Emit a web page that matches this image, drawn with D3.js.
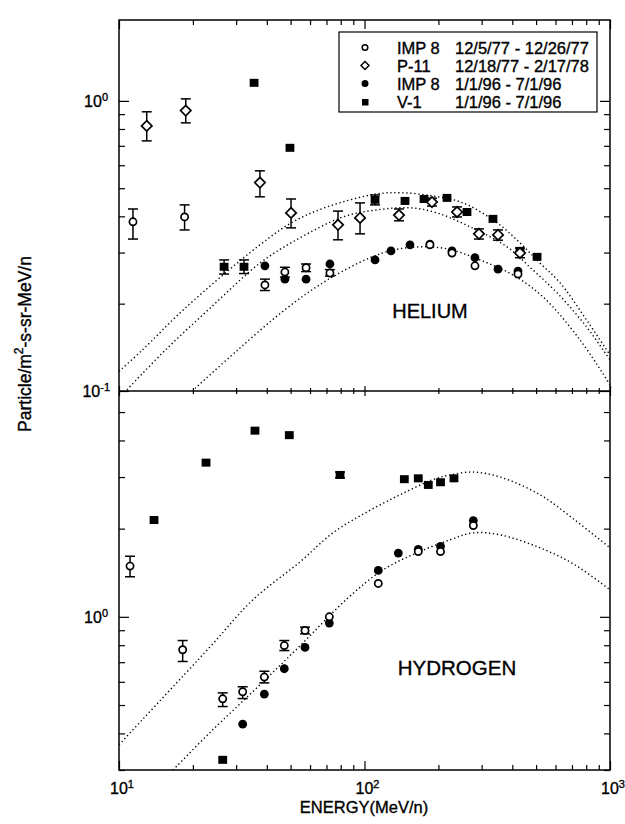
<!DOCTYPE html>
<html><head><meta charset="utf-8">
<script src="https://d3js.org/d3.v7.min.js"></script>
<style>body{margin:0;background:#fff}svg{display:block}text{font-family:"Liberation Sans",Arial,sans-serif;fill:#000;stroke:#000;stroke-width:0.35px}</style>
</head><body><div id="chart"></div>
<script>
// ---- DATA: [energy MeV/n, flux, errLow, errHigh] ----
const heIMP8_77 = [[11.4,0.383,0.334,0.424],[18.5,0.398,0.359,0.438],[39.3,0.232,0.222,0.243],[47.4,0.257,0.247,0.267],[57.8,0.266,0.258,0.274],[72.3,0.255,0.249,0.262],[184.7,0.319],[227.2,0.299],[281.8,0.270],[421.9,0.253]];
const heP11 = [[12.97,0.820,0.728,0.917],[18.7,0.926,0.840,1.016],[37.5,0.523,0.467,0.574],[50.2,0.411,0.365,0.459],[78.0,0.374,0.332,0.417],[95.9,0.395,0.348,0.445],[138.2,0.404,0.386,0.424],[188.3,0.448,0.434,0.462],[238.2,0.414,0.398,0.431],[292.6,0.348,0.334,0.362],[349.9,0.345,0.331,0.359],[429.9,0.299,0.288,0.311]];
const heIMP8_96 = [[39.3,0.270],[47.4,0.243],[57.8,0.243],[72.3,0.274],[110.4,0.283],[128.2,0.304],[153.2,0.319],[184.7,0.321],[227.2,0.304],[281.8,0.288],[349.9,0.263],[421.9,0.259]];
const heV1 = [[26.8,0.268,0.253,0.283],[32.3,0.268,0.254,0.283],[35.5,1.154],[49.7,0.689],[110.4,0.456,0.438,0.474],[146.2,0.452],[174.8,0.459],[216.8,0.463],[261.5,0.414],[333.6,0.392],[429.9,0.304],[504.5,0.290]];

const hIMP8_77 = [[11.09,1.49,1.37,1.61],[18.17,0.772,0.704,0.830],[26.45,0.525,0.494,0.550],[31.9,0.555,0.526,0.577],[39.08,0.623,0.595,0.652],[47.13,0.798,0.767,0.830],[57.24,0.898,0.875,0.922],[71.9,1.00],[113.8,1.30],[165.6,1.67],[204.0,1.67],[277.5,2.05]];
const hIMP8_96 = [[31.9,0.430],[39.08,0.545],[47.13,0.665],[57.24,0.786],[71.9,0.952],[113.8,1.44],[137.3,1.65],[165.6,1.70],[204.0,1.74],[277.5,2.13]];
const hV1 = [[13.89,2.14],[22.62,3.36],[26.45,0.325],[35.8,4.32],[49.4,4.17],[79.5,3.05,2.98,3.12],[145.3,2.95],[165.6,2.97],[181.9,2.82],[204.0,2.88],[231.5,2.97]];

// model curves
const heCurveTop = [[10,0.117],[12.4,0.138],[18.6,0.193],[37.5,0.319],[51.2,0.383],[70.4,0.431],[112.4,0.478],[143.5,0.482],[190.1,0.470],[251.8,0.445],[346.6,0.380],[429.9,0.324],[518.7,0.276],[625.8,0.236],[791,0.179],[1000,0.133]];
const heCurveMid = [[10.78,0.101],[15.4,0.138],[23.5,0.193],[37.5,0.276],[51.2,0.327],[81.7,0.398],[112.4,0.421],[153.2,0.428],[197.4,0.411],[268.9,0.368],[380.5,0.314],[485.8,0.261],[608.4,0.218],[791,0.169],[1000,0.128]];
const heCurveLow = [[20.4,0.102],[30.3,0.138],[48.3,0.193],[70.4,0.241],[105.3,0.288],[130.7,0.306],[168.3,0.314],[216.8,0.309],[295.4,0.283],[402.7,0.251],[533.5,0.211],[754.9,0.150],[1000,0.105]];
const hCurveUp = [[10,0.366],[23.5,0.790],[35.1,1.143],[54.6,1.54],[74.4,1.935],[102.4,2.28],[139.5,2.61],[190.1,2.94],[223,3.05],[276.7,3.12],[356.4,3.00],[518.7,2.61],[719,2.14],[1000,1.72]];
const hCurveLow = [[16.6,0.30],[23.5,0.403],[37.5,0.586],[54.6,0.796],[84.9,1.152],[119,1.447],[163.7,1.654],[223,1.832],[276.7,1.935],[356.4,1.905],[518.7,1.72],[719,1.505],[1000,1.236]];

const legendNames = ["IMP 8","P-11","IMP 8","V-1"];
const legendDates = ["12/5/77 - 12/26/77","12/18/77 - 2/17/78","1/1/96 - 7/1/96","1/1/96 - 7/1/96"];
const xTickVals = [10,20,30,40,50,60,70,80,90,100,200,300,400,500,600,700,800,900,1000];
const yTopTicks = [0.1,0.2,0.3,0.4,0.5,0.6,0.7,0.8,0.9,1];
const yBotTicks = [0.3,0.4,0.5,0.6,0.7,0.8,0.9,1,2,3,4,5];

// ---- LAYOUT ----
const W=625,H=824, L=119, R=610, T=20, MID=391, B=770;
const svg = d3.select("#chart").append("svg").attr("width",W).attr("height",H);
const x = d3.scaleLog().domain([10,1000]).range([L,R]);
const yTop = d3.scaleLog().domain([0.1,1.9]).range([MID,T]);
const yBot = d3.scaleLog().domain([0.3,5.9]).range([B,MID]);
const isMajor = v => Math.abs(Math.log10(v)-Math.round(Math.log10(v)))<1e-6;

const defs = svg.append("defs");
defs.append("clipPath").attr("id","cTop").append("rect").attr("x",L).attr("y",T).attr("width",R-L).attr("height",MID-T);
defs.append("clipPath").attr("id","cBot").append("rect").attr("x",L).attr("y",MID).attr("width",R-L).attr("height",B-MID);

// bottom axis (ticks inward/up)
let g = svg.append("g").attr("transform",`translate(0,${B})`).call(d3.axisBottom(x).tickValues(xTickVals).tickFormat("").tickSizeOuter(0));
g.select(".domain").remove();
g.selectAll(".tick line").attr("y2",d=>isMajor(d)?-9:-5).attr("stroke","#000").attr("stroke-width",1.2);
// middle boundary ticks (both sides)
g = svg.append("g").attr("transform",`translate(0,${MID})`).call(d3.axisBottom(x).tickValues(xTickVals).tickFormat("").tickSizeOuter(0));
g.select(".domain").remove();
g.selectAll(".tick line").attr("y1",d=>isMajor(d)?-5:-3).attr("y2",d=>isMajor(d)?5:3).attr("stroke","#000").attr("stroke-width",1.2);
// top axis ticks
g = svg.append("g").attr("transform",`translate(0,${T})`).call(d3.axisTop(x).tickValues(xTickVals).tickFormat("").tickSizeOuter(0));
g.select(".domain").remove();
g.selectAll(".tick line").attr("y2",d=>isMajor(d)?9:5).attr("stroke","#000").attr("stroke-width",1.2);
// left/right y ticks
[[yTop,yTopTicks],[yBot,yBotTicks]].forEach(([ys,vals])=>{
  let gl = svg.append("g").attr("transform",`translate(${L},0)`).call(d3.axisLeft(ys).tickValues(vals).tickFormat("").tickSizeOuter(0));
  gl.select(".domain").remove();
  gl.selectAll(".tick line").attr("x2",d=>isMajor(d)?10:6).attr("stroke","#000").attr("stroke-width",1.2);
  let gr = svg.append("g").attr("transform",`translate(${R},0)`).call(d3.axisRight(ys).tickValues(vals).tickFormat("").tickSizeOuter(0));
  gr.select(".domain").remove();
  gr.selectAll(".tick line").attr("x2",d=>isMajor(d)?-10:-6).attr("stroke","#000").attr("stroke-width",1.2);
});

// frame
svg.append("rect").attr("x",L).attr("y",T).attr("width",R-L).attr("height",B-T).attr("fill","none").attr("stroke","#000").attr("stroke-width",1.5);
svg.append("line").attr("x1",L).attr("x2",R).attr("y1",MID).attr("y2",MID).attr("stroke","#000").attr("stroke-width",1.5);

// tick labels with superscripts
function powLabel(px,py,exp,anchor){
  const t = svg.append("text").attr("x",px).attr("y",py).attr("text-anchor",anchor).style("font-size","16px");
  t.append("tspan").text("10");
  t.append("tspan").attr("dy",-6).style("font-size","11px").text(exp);
  return t;
}
powLabel(L-11, yTop(1)+6, "0", "end");
powLabel(L-9, yTop(0.1)+6, "-1", "end");
powLabel(L-11, yBot(1)+6, "0", "end");
[[10,"1"],[100,"2"],[1000,"3"]].forEach(([v,e])=>powLabel(x(v)+3, B+24, e, "middle"));

// axis titles
const yt = svg.append("text").attr("transform",`translate(31,344) rotate(-90)`).attr("text-anchor","middle").style("font-size","17.5px");
yt.append("tspan").text("Particle/m");
yt.append("tspan").attr("dy",-8).style("font-size","12px").text("2");
yt.append("tspan").attr("dy",8).text("-s-sr-MeV/n");
svg.append("text").attr("x",364).attr("y",813).attr("text-anchor","middle").style("font-size","16.5px").text("ENERGY(MeV/n)");

svg.append("text").attr("x",430).attr("y",318).attr("text-anchor","middle").style("font-size","20px").text("HELIUM");
svg.append("text").attr("x",457).attr("y",675).attr("text-anchor","middle").style("font-size","20.5px").text("HYDROGEN");

// curves
const lineGen = ys => d3.line().x(d=>x(d[0])).y(d=>ys(d[1])).curve(d3.curveCatmullRom.alpha(0.5));
function curve(data, ys, clip){
  svg.append("path").datum(data).attr("d",lineGen(ys)).attr("clip-path",`url(#${clip})`)
    .attr("fill","none").attr("stroke","#000").attr("stroke-width",1.4).attr("stroke-dasharray","1.3,2.7");
}
curve(heCurveTop,yTop,"cTop"); curve(heCurveMid,yTop,"cTop"); curve(heCurveLow,yTop,"cTop");
curve(hCurveUp,yBot,"cBot"); curve(hCurveLow,yBot,"cBot");

// markers
function errBars(data, ys){
  data.filter(d=>d.length>2).forEach(d=>{
    const gx=x(d[0]), lo=ys(d[2]), hi=ys(d[3]);
    svg.append("line").attr("x1",gx).attr("x2",gx).attr("y1",lo).attr("y2",hi).attr("stroke","#000").attr("stroke-width",1.5);
    [lo,hi].forEach(yy=>svg.append("line").attr("x1",gx-5).attr("x2",gx+5).attr("y1",yy).attr("y2",yy).attr("stroke","#000").attr("stroke-width",1.5));
  });
}
function drawSym(type, cx, cy){
  if(type==="oc") svg.append("circle").attr("cx",cx).attr("cy",cy).attr("r",3.6).attr("fill","#fff").attr("stroke","#000").attr("stroke-width",1.7);
  else if(type==="dia") svg.append("path").attr("d",`M${cx},${cy-5.2}L${cx+5.2},${cy}L${cx},${cy+5.2}L${cx-5.2},${cy}Z`).attr("fill","#fff").attr("stroke","#000").attr("stroke-width",1.7);
  else if(type==="fc") svg.append("circle").attr("cx",cx).attr("cy",cy).attr("r",4.4).attr("fill","#000");
  else svg.append("rect").attr("x",cx-4.4).attr("y",cy-4).attr("width",8.8).attr("height",8).attr("fill","#000");
}
function series(data, ys, type){
  errBars(data, ys);
  data.forEach(d=>drawSym(type, x(d[0]), ys(d[1])));
}
series(heV1,yTop,"sq"); series(heIMP8_96,yTop,"fc"); series(heP11,yTop,"dia"); series(heIMP8_77,yTop,"oc");
series(hV1,yBot,"sq"); series(hIMP8_96,yBot,"fc"); series(hIMP8_77,yBot,"oc");

// legend
svg.append("rect").attr("x",339).attr("y",32).attr("width",258).attr("height",80).attr("fill","#fff").attr("stroke","#000").attr("stroke-width",1.2);
const legTypes = ["oc","dia","fc","sq"];
legendNames.forEach((n,i)=>{
  const yy = 47.5 + i*18;
  if(legTypes[i]==="oc") svg.append("circle").attr("cx",365).attr("cy",yy).attr("r",2.8).attr("fill","#fff").attr("stroke","#000").attr("stroke-width",1.5);
  else if(legTypes[i]==="dia") svg.append("path").attr("d",`M365,${yy-4}L369,${yy}L365,${yy+4}L361,${yy}Z`).attr("fill","#fff").attr("stroke","#000").attr("stroke-width",1.5);
  else if(legTypes[i]==="fc") svg.append("circle").attr("cx",365).attr("cy",yy).attr("r",3.5).attr("fill","#000");
  else svg.append("rect").attr("x",362).attr("y",yy-2.5).attr("width",6.5).attr("height",6.5).attr("fill","#000");
  svg.append("text").attr("x",397).attr("y",yy+6).style("font-size","16.5px").text(n);
  svg.append("text").attr("x",455).attr("y",yy+6).style("font-size","16.5px").text(legendDates[i]);
});
</script></body></html>
